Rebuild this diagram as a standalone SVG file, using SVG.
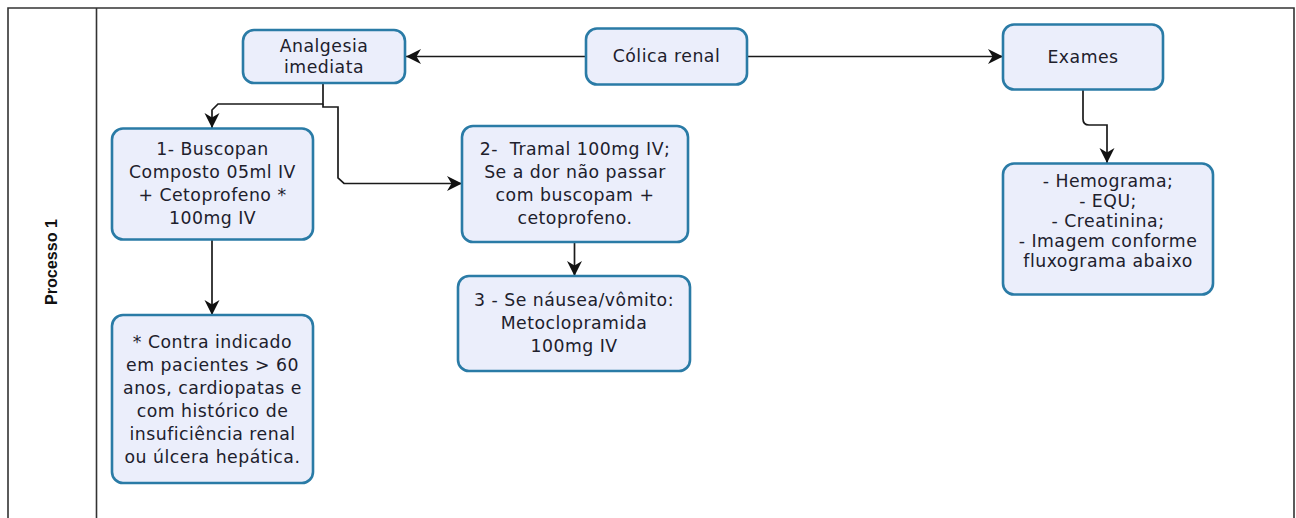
<svg xmlns="http://www.w3.org/2000/svg" width="1296" height="518" viewBox="0 0 1296 518">
<style>
.node rect{fill:#EBEEFB;stroke:#2A7BA6;stroke-width:2.6}
.node text{font-family:"DejaVu Sans",Verdana,sans-serif;font-size:17.3px;letter-spacing:0.5px;fill:#20202C;text-anchor:middle}
.conn path{fill:none;stroke:#1A1A1A;stroke-width:1.7}
.frame{fill:none;stroke:#333;stroke-width:1.6}
</style>
<defs>
<marker id="arr" markerUnits="userSpaceOnUse" markerWidth="18" markerHeight="18" viewBox="0 0 18 18" refX="16" refY="9" orient="auto">
<path d="M1,1.5 L16,9 L1,16.5 L5.5,9 Z" fill="#111"/>
</marker>
</defs>
<rect width="1296" height="518" fill="#fff"/>
<g id="frame">
<path class="frame" d="M8,520 V8 H1294 V520"/>
<path class="frame" d="M96.5,8 V520"/>
<text transform="translate(57,262) rotate(-90)" font-family="'Liberation Sans',Arial,sans-serif" font-weight="bold" font-size="17" text-anchor="middle" textLength="86" lengthAdjust="spacingAndGlyphs" fill="#111">Processo 1</text>
</g>
<g class="conn" id="connectors">
<path d="M586,56.5 H406" marker-end="url(#arr)"/>
<path d="M747,56.5 H1003" marker-end="url(#arr)"/>
<path d="M323,83 V104 H218 L212,110 V128" marker-end="url(#arr)"/>
<path d="M323,104 V107 H338 V178 L344,183.5 H462" marker-end="url(#arr)"/>
<path d="M212,240 V315" marker-end="url(#arr)"/>
<path d="M574.5,242 V276" marker-end="url(#arr)"/>
<path d="M1083,90 V119 Q1083,125 1089,125 H1107 V163" marker-end="url(#arr)"/>
</g>
<g class="node" id="analgesia">
<rect x="243" y="30" width="162" height="53" rx="11"/>
<text x="324" y="52">Analgesia</text>
<text x="324" y="73">imediata</text>
</g>
<g class="node" id="colica">
<rect x="586" y="28.5" width="161" height="56" rx="11"/>
<text x="666.5" y="62">Cólica renal</text>
</g>
<g class="node" id="exames">
<rect x="1003" y="24.5" width="160" height="65" rx="11"/>
<text x="1083" y="63">Exames</text>
</g>
<g class="node" id="buscopan">
<rect x="112" y="128.5" width="201" height="111" rx="11"/>
<text x="212.5" y="155">1- Buscopan</text>
<text x="212.5" y="178">Composto 05ml IV</text>
<text x="212.5" y="201">+ Cetoprofeno *</text>
<text x="212.5" y="224">100mg IV</text>
</g>
<g class="node" id="tramal">
<rect x="462" y="126" width="226" height="116" rx="11"/>
<text x="575" y="155" xml:space="preserve">2-  Tramal 100mg IV;</text>
<text x="575" y="178">Se a dor não passar</text>
<text x="575" y="201">com buscopam +</text>
<text x="575" y="224">cetoprofeno.</text>
</g>
<g class="node" id="nausea">
<rect x="458" y="276" width="232" height="95" rx="11"/>
<text x="574" y="306">3 - Se náusea/vômito:</text>
<text x="574" y="329">Metoclopramida</text>
<text x="574" y="352">100mg IV</text>
</g>
<g class="node" id="contra">
<rect x="112" y="315" width="201" height="168" rx="11"/>
<text x="212.5" y="348">* Contra indicado</text>
<text x="212.5" y="371">em pacientes &gt; 60</text>
<text x="212.5" y="394">anos, cardiopatas e</text>
<text x="212.5" y="417">com histórico de</text>
<text x="212.5" y="440">insuficiência renal</text>
<text x="212.5" y="463">ou úlcera hepática.</text>
</g>
<g class="node" id="lista">
<rect x="1003" y="163.5" width="210" height="131" rx="11"/>
<text x="1108" y="187">- Hemograma;</text>
<text x="1108" y="207">- EQU;</text>
<text x="1108" y="227">- Creatinina;</text>
<text x="1108" y="247">- Imagem conforme</text>
<text x="1108" y="267">fluxograma abaixo</text>
</g>
</svg>
